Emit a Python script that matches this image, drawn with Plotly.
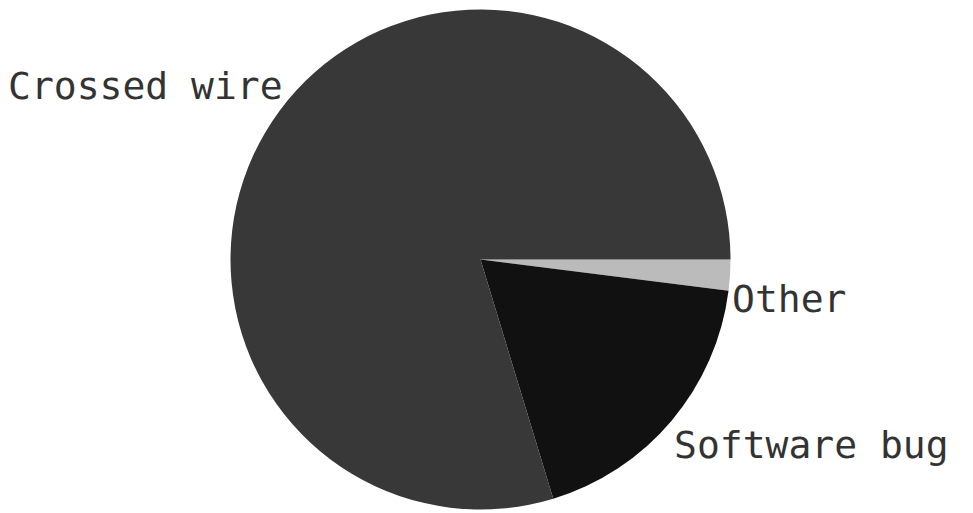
import math
import plotly.graph_objects as go

labels = ["Other", "Software bug", "Crossed wire"]
values = [2.0, 18.3, 79.7]
colors = ["#bbbbbb", "#111111", "#383838"]

W, H = 973, 513
cx, cy, r = 472.5, 251.5, 250.0  # figure pixel coords (page has 8px body margin)

fig = go.Figure(go.Pie(
    labels=labels,
    values=values,
    sort=False,
    direction="clockwise",
    rotation=90,
    marker=dict(colors=colors, line=dict(width=0)),
    textinfo="none",
    automargin=False,
    showlegend=False,
    hoverinfo="label+percent",
    domain=dict(x=[(cx - r) / W, (cx + r) / W], y=[(H - cy - r) / H, (H - cy + r) / H]),
))

# labels placed just outside the pie at each slice's mid-angle
total = sum(values)
start = 0.0
for lab, v in zip(labels, values):
    mid = start - 0.5 * v / total * 360.0
    start -= v / total * 360.0
    a = math.radians(mid)
    px = cx + r * math.cos(a)
    py = cy - r * math.sin(a)
    right_side = math.cos(a) > 0
    fig.add_annotation(
        x=px / W, y=1 - py / H, xref="paper", yref="paper",
        text=lab, showarrow=False,
        xanchor="left" if right_side else "right",
        yanchor="top" if math.sin(a) < 0 else "bottom",
        xshift=0 if right_side else 5,
        yshift=0 if right_side else 1,
        font=dict(family="DejaVu Sans Mono", size=38, color="#333333"),
    )

fig.update_layout(
    width=W, height=H,
    margin=dict(l=0, r=0, t=0, b=0),
    paper_bgcolor="white",
    plot_bgcolor="white",
)

fig.write_html("out.html")
